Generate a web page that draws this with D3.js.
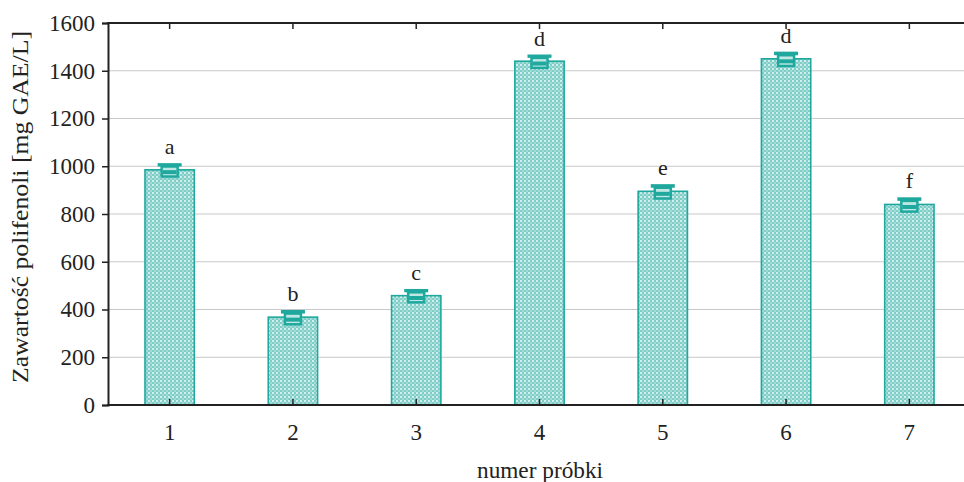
<!DOCTYPE html>
<html>
<head>
<meta charset="utf-8">
<script src="https://cdn.jsdelivr.net/npm/d3@7"></script>
<style>
  body { margin: 0; background: #fff; }
</style>
</head>
<body>
<script>
var samples = ["1", "2", "3", "4", "5", "6", "7"];
var values = [985, 368, 458, 1440, 895, 1450, 840];
var errors = [28, 30, 28, 28, 30, 30, 30];
var letters = ["a", "b", "c", "d", "e", "d", "f"];
var yTicks = [0, 200, 400, 600, 800, 1000, 1200, 1400, 1600];

var width = 964, height = 482;
var serif = "'Liberation Serif', 'Times New Roman', Tinos, 'DejaVu Serif', serif";

var svg = d3.select("body").append("svg")
    .attr("width", width)
    .attr("height", height)
    .style("font-family", serif);

var xScale = d3.scaleBand().domain(samples).range([108, 971]).paddingInner(0.6).paddingOuter(0.3);
var yScale = d3.scaleLinear().domain([0, 1600]).range([405, 23]);

var teal = "#1fa89e";

// dotted fill of the bars
var defs = svg.append("defs");
var pat = defs.append("pattern")
    .attr("id", "dots")
    .attr("width", 4).attr("height", 4)
    .attr("patternUnits", "userSpaceOnUse");
pat.append("rect").attr("width", 4).attr("height", 4).attr("fill", "#7fcdc7");
pat.append("circle").attr("cx", 1).attr("cy", 1).attr("r", 1).attr("fill", "#eefaf9");
pat.append("circle").attr("cx", 3).attr("cy", 3).attr("r", 0.8).attr("fill", "#d2efec");

// grid lines
svg.append("g").selectAll("line")
    .data(yTicks.filter(function(d) { return d > 0 && d < 1600; }))
    .enter().append("line")
    .attr("x1", 108).attr("x2", width)
    .attr("y1", function(d) { return yScale(d); })
    .attr("y2", function(d) { return yScale(d); })
    .attr("stroke", "#c8c8c8").attr("stroke-width", 1);

// bars
var bars = svg.append("g").selectAll(".bar").data(samples).enter().append("g").classed("bar", true);

bars.append("rect")
    .attr("x", function(d) { return xScale(d); })
    .attr("y", function(d, i) { return yScale(values[i]); })
    .attr("width", xScale.bandwidth())
    .attr("height", function(d, i) { return yScale(0) - yScale(values[i]); })
    .attr("fill", "url(#dots)")
    .attr("stroke", teal).attr("stroke-width", 1.6);

// error boxes
var cx = function(d) { return xScale(d) + xScale.bandwidth() / 2; };
bars.append("rect")
    .attr("x", function(d) { return cx(d) - 8; })
    .attr("y", function(d, i) { return yScale(values[i] + errors[i] * 0.5); })
    .attr("width", 16)
    .attr("height", function(d, i) { return yScale(values[i] - errors[i]) - yScale(values[i] + errors[i] * 0.5); })
    .attr("fill", "#bfe8e4")
    .attr("stroke", teal).attr("stroke-width", 2.5);
bars.append("line")
    .attr("x1", function(d) { return cx(d) - 7; })
    .attr("x2", function(d) { return cx(d) + 7; })
    .attr("y1", function(d, i) { return yScale(values[i] - errors[i] * 0.35); })
    .attr("y2", function(d, i) { return yScale(values[i] - errors[i] * 0.35); })
    .attr("stroke", teal).attr("stroke-width", 4);
bars.append("rect")
    .attr("x", function(d) { return cx(d) - 12; })
    .attr("y", function(d, i) { return yScale(values[i] + errors[i]); })
    .attr("width", 24)
    .attr("height", function(d, i) { return yScale(values[i] + errors[i] * 0.5) - yScale(values[i] + errors[i]); })
    .attr("fill", teal);

// group letters
bars.append("text")
    .attr("x", cx)
    .attr("y", function(d, i) { return yScale(values[i] + errors[i]) - 9; })
    .attr("text-anchor", "middle")
    .attr("font-size", 22)
    .attr("fill", "#222")
    .text(function(d, i) { return letters[i]; });

// axes
var yAxis = svg.append("g")
    .attr("transform", "translate(108,0)")
    .call(d3.axisLeft(yScale).tickValues(yTicks).tickFormat(d3.format("d")).tickSize(6).tickPadding(7));
yAxis.attr("font-family", null).attr("font-size", 23);
yAxis.select(".domain").attr("stroke", "#222").attr("stroke-width", 2);
yAxis.selectAll(".tick line").attr("stroke", "#222").attr("stroke-width", 1.5);
yAxis.selectAll("text").attr("fill", "#222");

var xAxis = svg.append("g")
    .attr("transform", "translate(0,405)")
    .call(d3.axisBottom(xScale).tickSize(-6).tickPadding(19));
xAxis.attr("font-family", null).attr("font-size", 23);
xAxis.select(".domain").remove();
xAxis.selectAll(".tick line").attr("stroke", "#222").attr("stroke-width", 1.5);
xAxis.selectAll("text").attr("fill", "#222");

var topAxis = svg.append("g")
    .attr("transform", "translate(0,23)")
    .call(d3.axisTop(xScale).tickSize(-6).tickFormat(""));
topAxis.select(".domain").remove();
topAxis.selectAll(".tick line").attr("stroke", "#222").attr("stroke-width", 1.5);

svg.append("line").attr("x1", 107).attr("x2", width).attr("y1", 405).attr("y2", 405)
    .attr("stroke", "#222").attr("stroke-width", 2);
svg.append("line").attr("x1", 107).attr("x2", width).attr("y1", 23).attr("y2", 23)
    .attr("stroke", "#222").attr("stroke-width", 2);

// titles
svg.append("text")
    .attr("x", 540).attr("y", 478)
    .attr("text-anchor", "middle")
    .attr("font-size", 23)
    .attr("textLength", 126)
    .attr("lengthAdjust", "spacingAndGlyphs")
    .attr("fill", "#222")
    .text("numer próbki");

svg.append("text")
    .attr("transform", "translate(28,207) rotate(-90)")
    .attr("text-anchor", "middle")
    .attr("font-size", 23)
    .attr("textLength", 352)
    .attr("lengthAdjust", "spacingAndGlyphs")
    .attr("fill", "#222")
    .text("Zawartość polifenoli [mg GAE/L]");
</script>
</body>
</html>
